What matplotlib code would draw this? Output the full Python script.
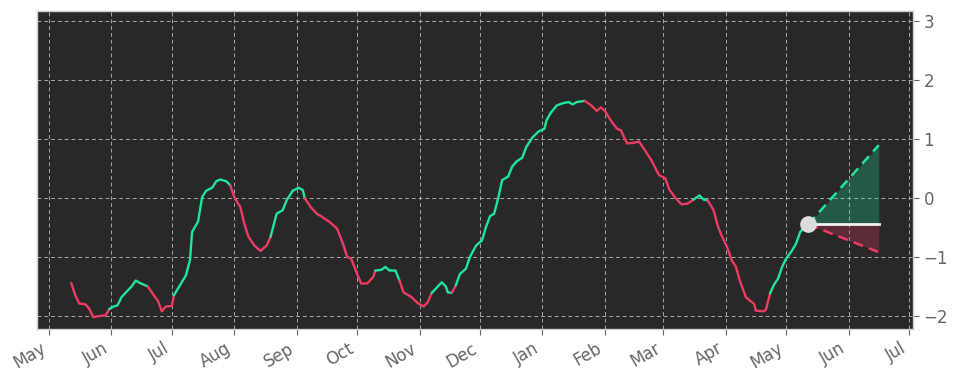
import matplotlib
matplotlib.use("Agg")
import matplotlib.pyplot as plt
import matplotlib.dates as mdates
import pandas as pd

# traced oscillator values
dates = [
    "2023-05-12", "2023-05-14", "2023-05-16", "2023-05-19", "2023-05-21", "2023-05-23",
    "2023-05-26", "2023-05-29", "2023-05-31", "2023-06-02", "2023-06-04", "2023-06-06",
    "2023-06-09", "2023-06-11", "2023-06-13", "2023-06-15", "2023-06-19", "2023-06-22",
    "2023-06-24", "2023-06-26", "2023-06-28", "2023-07-01", "2023-07-02", "2023-07-05",
    "2023-07-08", "2023-07-10", "2023-07-11", "2023-07-14", "2023-07-16", "2023-07-18",
    "2023-07-21", "2023-07-23", "2023-07-25", "2023-07-28", "2023-07-30", "2023-08-01",
    "2023-08-04", "2023-08-06", "2023-08-08", "2023-08-11", "2023-08-14", "2023-08-17",
    "2023-08-19", "2023-08-22", "2023-08-25", "2023-08-27", "2023-08-30", "2023-09-02",
    "2023-09-04", "2023-09-05", "2023-09-08", "2023-09-11", "2023-09-13", "2023-09-16",
    "2023-09-17", "2023-09-21", "2023-09-24", "2023-09-26", "2023-09-28", "2023-10-01",
    "2023-10-03", "2023-10-06", "2023-10-09", "2023-10-10", "2023-10-13", "2023-10-15",
    "2023-10-17", "2023-10-20", "2023-10-22", "2023-10-24", "2023-10-26", "2023-10-28",
    "2023-10-31", "2023-11-03", "2023-11-05", "2023-11-07", "2023-11-09", "2023-11-12",
    "2023-11-14", "2023-11-15", "2023-11-17", "2023-11-19", "2023-11-21", "2023-11-24",
    "2023-11-26", "2023-11-29", "2023-12-02", "2023-12-04", "2023-12-06", "2023-12-08",
    "2023-12-10", "2023-12-12", "2023-12-15", "2023-12-17", "2023-12-19", "2023-12-22",
    "2023-12-24", "2023-12-27", "2023-12-30", "2024-01-02", "2024-01-03", "2024-01-05",
    "2024-01-08", "2024-01-11", "2024-01-14", "2024-01-16", "2024-01-18", "2024-01-22",
    "2024-01-25", "2024-01-28", "2024-01-30", "2024-02-01", "2024-02-03", "2024-02-05",
    "2024-02-07", "2024-02-09", "2024-02-12", "2024-02-15", "2024-02-18", "2024-02-21",
    "2024-02-24", "2024-02-26", "2024-02-28", "2024-03-02", "2024-03-04", "2024-03-07",
    "2024-03-10", "2024-03-13", "2024-03-16", "2024-03-19", "2024-03-21", "2024-03-23",
    "2024-03-26", "2024-03-28", "2024-03-30", "2024-04-02", "2024-04-04", "2024-04-06",
    "2024-04-08", "2024-04-11", "2024-04-13", "2024-04-15", "2024-04-16", "2024-04-20",
    "2024-04-21", "2024-04-23", "2024-04-25", "2024-04-27", "2024-04-29", "2024-05-01",
    "2024-05-04", "2024-05-06", "2024-05-08", "2024-05-10", "2024-05-12",
]
values = [
    -1.44, -1.65, -1.79, -1.80, -1.88, -2.02,
    -2.00, -1.99, -1.88, -1.84, -1.82, -1.68,
    -1.57, -1.50, -1.40, -1.44, -1.50, -1.65,
    -1.74, -1.92, -1.84, -1.83, -1.65, -1.48,
    -1.31, -1.05, -0.58, -0.40, 0.01, 0.12,
    0.17, 0.28, 0.31, 0.28, 0.21, 0.01,
    -0.16, -0.44, -0.66, -0.81, -0.90, -0.81,
    -0.66, -0.27, -0.21, -0.04, 0.12, 0.17,
    0.13, -0.01, -0.16, -0.27, -0.31, -0.38,
    -0.40, -0.52, -0.78, -1.00, -1.03, -1.29,
    -1.45, -1.45, -1.34, -1.23, -1.22, -1.17,
    -1.23, -1.23, -1.40, -1.60, -1.64, -1.68,
    -1.78, -1.84, -1.77, -1.61, -1.54, -1.43,
    -1.50, -1.60, -1.61, -1.48, -1.29, -1.20,
    -1.00, -0.81, -0.72, -0.49, -0.31, -0.27,
    -0.01, 0.30, 0.36, 0.53, 0.61, 0.68,
    0.86, 1.02, 1.12, 1.17, 1.31, 1.43,
    1.56, 1.60, 1.62, 1.58, 1.62, 1.64,
    1.57, 1.47, 1.53, 1.47, 1.36, 1.26,
    1.17, 1.14, 0.92, 0.93, 0.95, 0.80,
    0.64, 0.51, 0.38, 0.33, 0.14, 0.00,
    -0.11, -0.10, -0.03, 0.04, -0.03, -0.04,
    -0.21, -0.47, -0.64, -0.86, -1.06, -1.16,
    -1.40, -1.68, -1.74, -1.79, -1.91, -1.92,
    -1.89, -1.62, -1.47, -1.37, -1.17, -1.03,
    -0.89, -0.77, -0.58, -0.49, -0.45,
]

# dates where the trend colour flips
turns = ["2023-05-31", "2023-06-18", "2023-07-02", "2023-07-29", "2023-08-19",
         "2023-09-05", "2023-10-10", "2023-10-21", "2023-11-07", "2023-11-17",
         "2023-11-19", "2024-01-22", "2024-03-16", "2024-03-22", "2024-04-22"]

# projection cone
proj_end = "2024-06-16"
proj_high = 0.89
proj_low = -0.92

UP = "#1fe69a"
DOWN = "#ee3b63"
BG = "#282828"

x = pd.to_datetime(dates)
turn_x = pd.to_datetime(turns)

def trend_at(d):
    n = (turn_x <= d).sum()
    return UP if n % 2 == 1 else DOWN

fig = plt.figure(figsize=(9.58, 3.81), dpi=100)
ax = fig.add_axes([0.0386, 0.1365, 0.9144, 0.8345])
ax.set_facecolor(BG)

# colour runs
start = 0
cur = trend_at(x[0])
for i in range(1, len(x)):
    c = trend_at(x[i])
    if c != cur or i == len(x) - 1:
        ax.plot(x[start:i + 1], values[start:i + 1], color=cur, lw=1.7, zorder=3,
                solid_capstyle="round")
        start = i
        cur = c

x0 = x[-1]
v0 = values[-1]
x1 = pd.Timestamp(proj_end)
ax.fill_between([x0, x1], [v0, v0], [v0, proj_high], color=UP, alpha=0.26, lw=0, zorder=2)
ax.fill_between([x0, x1], [v0, v0], [v0, proj_low], color=DOWN, alpha=0.26, lw=0, zorder=2)
ax.plot([x0, x1], [v0, proj_high], color=UP, lw=1.8, ls=(0, (4, 2.5)), zorder=3)
ax.plot([x0, x1], [v0, proj_low], color=DOWN, lw=1.8, ls=(0, (4, 2.5)), zorder=3)
ax.plot([x0, x1], [v0, v0], color="#f2f2f2", lw=2, zorder=3)
ax.plot([x0], [v0], "o", color="#dcdcdc", ms=11, zorder=5)

ax.set_xlim(pd.Timestamp("2023-04-25"), pd.Timestamp("2024-07-03"))
ax.set_ylim(-2.22, 3.16)
ax.set_yticks([-2, -1, 0, 1, 2, 3])

ax.xaxis.set_major_locator(mdates.MonthLocator())
ax.xaxis.set_major_formatter(mdates.DateFormatter("%b"))
ax.yaxis.tick_right()

ax.grid(True, color="#c8c8c8", ls=(0, (4, 3)), lw=0.7, alpha=0.8)
ax.set_axisbelow(True)
for s in ax.spines.values():
    s.set_color("#cfcfcf")
    s.set_linewidth(1)

ax.tick_params(axis="both", colors="#666666", labelsize=12, length=4, direction="out")
for lbl in ax.get_xticklabels():
    lbl.set_rotation(30)
    lbl.set_ha("right")

fig.savefig("out.png", dpi=100, facecolor="white")
